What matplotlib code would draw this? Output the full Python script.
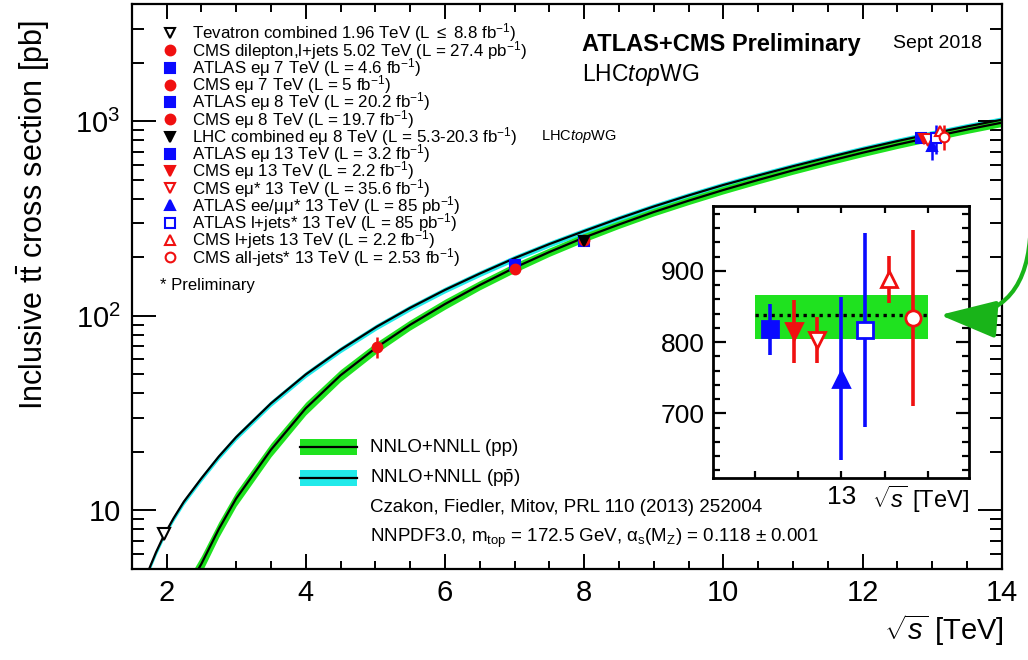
import numpy as np
import matplotlib
matplotlib.use("Agg")
import matplotlib.pyplot as plt
from matplotlib.lines import Line2D
from matplotlib.patches import FancyArrowPatch, Rectangle
from matplotlib.ticker import FixedLocator, FixedFormatter, MultipleLocator, NullFormatter

plt.rcParams["font.family"] = ["Liberation Sans", "DejaVu Sans"]
plt.rcParams["mathtext.fontset"] = "custom"
plt.rcParams["mathtext.rm"] = "Liberation Sans"
plt.rcParams["mathtext.it"] = "Liberation Sans:italic"
plt.rcParams["mathtext.bf"] = "Liberation Sans:bold"

W, H = 1028, 660
GREEN = "#1fe21f"
CYAN = "#22eaea"
ARROW_GREEN = "#19b419"
BLUE = "#0a0aff"
RED = "#f01010"


########################################
# theory: NNLO+NNLL predictions
########################################
pp_sqrts = [2.3, 2.4, 2.5, 2.75, 3.0, 3.5, 4.0, 4.5, 5.02, 5.5, 6.0, 6.5, 7.0, 7.5,
            8.0, 8.5, 9.0, 9.5, 10.0, 10.5, 11.0, 11.5, 12.0, 12.5, 13.0, 13.5, 14.0]
pp_xsec = [3.8, 4.6, 5.3, 8.0, 11.5, 20.5, 33.5, 49.5, 69.0, 90, 115, 144, 177, 213,
           253, 295, 342, 391, 444, 500, 560, 623, 690, 760, 832, 908, 985]
pp_unc = [0.10, 0.10, 0.10, 0.09, 0.085, 0.08, 0.075, 0.07, 0.065, 0.06, 0.06, 0.055, 0.055, 0.05,
          0.05, 0.045, 0.045, 0.045, 0.045, 0.045, 0.045, 0.045, 0.045, 0.045, 0.045, 0.045, 0.045]

ppbar_sqrts = [1.7, 1.75, 1.85, 1.96, 2.1, 2.25, 2.5, 2.75, 3.0, 3.5, 4.0, 4.5, 5.02, 5.5,
               6.0, 6.5, 7.0, 7.5, 8.0, 8.5, 9.0, 9.5, 10.0, 10.5, 11.0, 11.5, 12.0, 12.5,
               13.0, 13.5, 14.0]
ppbar_xsec = [4.5, 5.0, 6.1, 7.4, 9.1, 11.1, 14.6, 18.9, 23.8, 35.5, 50, 67, 88, 110,
              136, 165, 198, 234, 273, 317, 365, 416, 471, 527, 588, 652, 721, 792,
              866, 942, 1020]
ppbar_unc = 0.035

theory13_xsec = 838
theory13_lo, theory13_hi = 805, 866


########################################
# measurements
########################################
meas_labels = [
    r"Tevatron combined 1.96 TeV (L $\leq$ 8.8 fb$^{-1}$)",
    r"CMS dilepton,l+jets 5.02 TeV (L = 27.4 pb$^{-1}$)",
    r"ATLAS eμ 7 TeV (L = 4.6 fb$^{-1}$)",
    r"CMS eμ 7 TeV (L = 5 fb$^{-1}$)",
    r"ATLAS eμ 8 TeV (L = 20.2 fb$^{-1}$)",
    r"CMS eμ 8 TeV (L = 19.7 fb$^{-1}$)",
    r"LHC combined eμ 8 TeV (L = 5.3-20.3 fb$^{-1}$)",
    r"ATLAS eμ 13 TeV (L = 3.2 fb$^{-1}$)",
    r"CMS eμ 13 TeV (L = 2.2 fb$^{-1}$)",
    r"CMS eμ* 13 TeV (L = 35.6 fb$^{-1}$)",
    r"ATLAS ee/μμ* 13 TeV (L = 85 pb$^{-1}$)",
    r"ATLAS l+jets* 13 TeV (L = 85 pb$^{-1}$)",
    r"CMS l+jets 13 TeV (L = 2.2 fb$^{-1}$)",
    r"CMS all-jets* 13 TeV (L = 2.53 fb$^{-1}$)",
]
meas_sqrts = [1.96, 5.02, 7, 7, 8, 8, 8, 13, 13, 13, 13, 13, 13, 13]
meas_xsec = [7.60, 69.5, 182.9, 173.6, 242.9, 244.9, 241.5, 818, 815, 803, 749, 817, 888, 834]
meas_err = [0.41, 8.4, 7.1, 6.4, 8.7, 9.4, 8.5, 36, 44, 32, 114, 136, 33, 124]

meas_color = ["black", RED, BLUE, RED, BLUE, RED, "black", BLUE, RED, RED, BLUE, BLUE, RED, RED]
meas_marker = ["v", "o", "s", "o", "s", "o", "v", "s", "v", "v", "^", "s", "^", "o"]
meas_open = [True, False, False, False, False, False, False, False, False, True, False, True, True, True]
# 13 TeV points are spread out side by side around 13 TeV
meas_slot = [0, 0, 0, 0, 0, 0, 0, -3, -2, -1, 0, 1, 2, 3]


def fx(px):
    return px / W


def fy(py):
    return 1 - py / H


fig = plt.figure(figsize=(W / 100, H / 100), dpi=100)

########################################
# main panel
########################################
ax = fig.add_axes([fx(131.7), fy(569), (1001.7 - 131.7) / W, (569 - 4.3) / H])
ax.set_yscale("log")
ax.set_xlim(1.5, 14)
ax.set_ylim(5, 4000)

ppx, ppy, ppu = np.array(pp_sqrts), np.array(pp_xsec), np.array(pp_unc)
pbx, pby = np.array(ppbar_sqrts), np.array(ppbar_xsec)
ax.fill_between(pbx, pby * (1 - ppbar_unc), pby * (1 + ppbar_unc), color=CYAN, lw=0, zorder=1)
ax.fill_between(ppx, ppy * (1 - ppu), ppy * (1 + ppu), color=GREEN, lw=0, zorder=2)
ax.plot(pbx, pby, color="black", lw=1.6, zorder=3)
ax.plot(ppx, ppy, color="black", lw=1.6, zorder=3)

for i in range(len(meas_labels)):
    c = meas_color[i]
    ms = 9 if meas_marker[i] == "v" and meas_open[i] else 7
    ax.errorbar([meas_sqrts[i] + 0.055 * meas_slot[i]], [meas_xsec[i]], yerr=[meas_err[i]],
                fmt=meas_marker[i], color=c, mfc="white" if meas_open[i] else c, mec=c,
                ms=ms, mew=1.5, elinewidth=1.8, capsize=0, zorder=5)

ax.xaxis.set_major_locator(MultipleLocator(2))
ax.xaxis.set_minor_locator(MultipleLocator(0.5))
ax.yaxis.set_major_locator(FixedLocator([10, 100, 1000]))
ax.yaxis.set_major_formatter(FixedFormatter(["10", r"$10^{2}$", r"$10^{3}$"]))
ax.yaxis.set_minor_locator(FixedLocator([5, 6, 7, 8, 9, 20, 30, 40, 50, 60, 70, 80, 90,
                                         200, 300, 400, 500, 600, 700, 800, 900, 2000, 3000, 4000]))
ax.yaxis.set_minor_formatter(NullFormatter())
ax.tick_params(which="both", direction="in", top=True, right=True, width=1.4, labelsize=21)
ax.tick_params(axis="x", which="major", length=10.8, pad=7)
ax.tick_params(axis="x", which="minor", length=5.8)
ax.tick_params(axis="y", which="major", length=17, pad=8)
ax.tick_params(axis="y", which="minor", length=8.6)
for s in ax.spines.values():
    s.set_linewidth(1.6)

fig.text(fx(33), fy(215), r"Inclusive t$\mathrm{\bar{t}}$ cross section [pb]",
         rotation=90, ha="center", va="center", fontsize=22)
fig.text(fx(1004), fy(630), r"$\sqrt{s}$ [TeV]", ha="right", va="center", fontsize=21)

# measurement legend
row_y = [33 + 17.25 * k for k in range(len(meas_labels))]
for i, py in enumerate(row_y):
    c = meas_color[i]
    fig.add_artist(Line2D([fx(170)], [fy(py)], marker=meas_marker[i], color=c,
                          mfc="white" if meas_open[i] else c, mec=c, ms=7, mew=1.5,
                          transform=fig.transFigure))
    fig.text(fx(192), fy(py), meas_labels[i], ha="left", va="center", fontsize=12.2)
fig.text(fx(541), fy(row_y[6]), r"LHC$\mathit{top}$WG", ha="left", va="center", fontsize=10.5)
fig.text(fx(160), fy(285), "* Preliminary", ha="left", va="center", fontsize=12)

fig.text(fx(582), fy(45), "ATLAS+CMS Preliminary", ha="left", va="center",
         fontsize=17, fontweight="bold")
fig.text(fx(893), fy(44), "Sept 2018", ha="left", va="center", fontsize=14)
fig.text(fx(582), fy(75), r"LHC$\mathit{top}$WG", ha="left", va="center", fontsize=16.5)

# theory legend
for py, col, lab in ((447, GREEN, "NNLO+NNLL (pp)"), (478, CYAN, r"NNLO+NNLL (p$\mathrm{\bar{p}}$)")):
    fig.add_artist(Rectangle((fx(300), fy(py + 8)), 57 / W, 16 / H, color=col, lw=0,
                             transform=fig.transFigure))
    fig.add_artist(Line2D([fx(300), fx(357)], [fy(py), fy(py)], color="black", lw=1.6,
                          transform=fig.transFigure))
    fig.text(fx(370), fy(py), lab, ha="left", va="center", fontsize=13.5)
fig.text(fx(370), fy(508), "Czakon, Fiedler, Mitov, PRL 110 (2013) 252004",
         ha="left", va="center", fontsize=13.5)
fig.text(fx(370), fy(538),
         r"NNPDF3.0, m$_{\mathrm{top}}$ = 172.5 GeV, α$_{\mathrm{s}}$(M$_{\mathrm{Z}}$) = 0.118 ± 0.001",
         ha="left", va="center", fontsize=13.5)

########################################
# zoom on 13 TeV
########################################
ax_in = fig.add_axes([fx(713.3), fy(478.3), 256 / W, 272.3 / H])
ax_in.set_xlim(12.41, 13.59)
ax_in.set_ylim(609, 991)
ax_in.fill_between([12.6, 13.4], theory13_lo, theory13_hi, color=GREEN, lw=0, zorder=1)
ax_in.plot([12.6, 13.4], [theory13_xsec, theory13_xsec], color="black", lw=2.4,
           ls=(0, (1, 1.4)), zorder=2)
for i in range(7, len(meas_labels)):
    c = meas_color[i]
    ax_in.errorbar([13 + 0.11 * meas_slot[i]], [meas_xsec[i]], yerr=[meas_err[i]],
                   fmt=meas_marker[i], color=c, mfc="white" if meas_open[i] else c, mec=c,
                   ms=11, mew=2, elinewidth=2.6, capsize=0, zorder=5)

ax_in.xaxis.set_major_locator(FixedLocator([12.6, 12.8, 13.0, 13.2, 13.4]))
ax_in.xaxis.set_major_formatter(FixedFormatter(["", "", "13", "", ""]))
ax_in.yaxis.set_major_locator(MultipleLocator(100))
ax_in.yaxis.set_minor_locator(MultipleLocator(20))
ax_in.tick_params(which="both", direction="in", top=True, right=True, width=1.6, labelsize=19)
ax_in.tick_params(axis="x", which="major", length=5, pad=5)
ax_in.tick_params(axis="y", which="major", length=9.4, pad=6)
ax_in.tick_params(axis="y", which="minor", length=5)
for s in ax_in.spines.values():
    s.set_linewidth(2)
ax_in.text(1.0, -0.02, r"$\sqrt{s}$ [TeV]", transform=ax_in.transAxes,
           ha="right", va="top", fontsize=17)

arrow = FancyArrowPatch((fx(1030), fy(238)), (fx(940), fy(315)), transform=fig.transFigure,
                        connectionstyle="arc3,rad=-0.5",
                        arrowstyle="-|>,head_length=1.35,head_width=0.45",
                        mutation_scale=26, lw=3, color=ARROW_GREEN,
                        shrinkA=0, shrinkB=0, zorder=10)
fig.add_artist(arrow)

fig.savefig("out.png", dpi=100)
